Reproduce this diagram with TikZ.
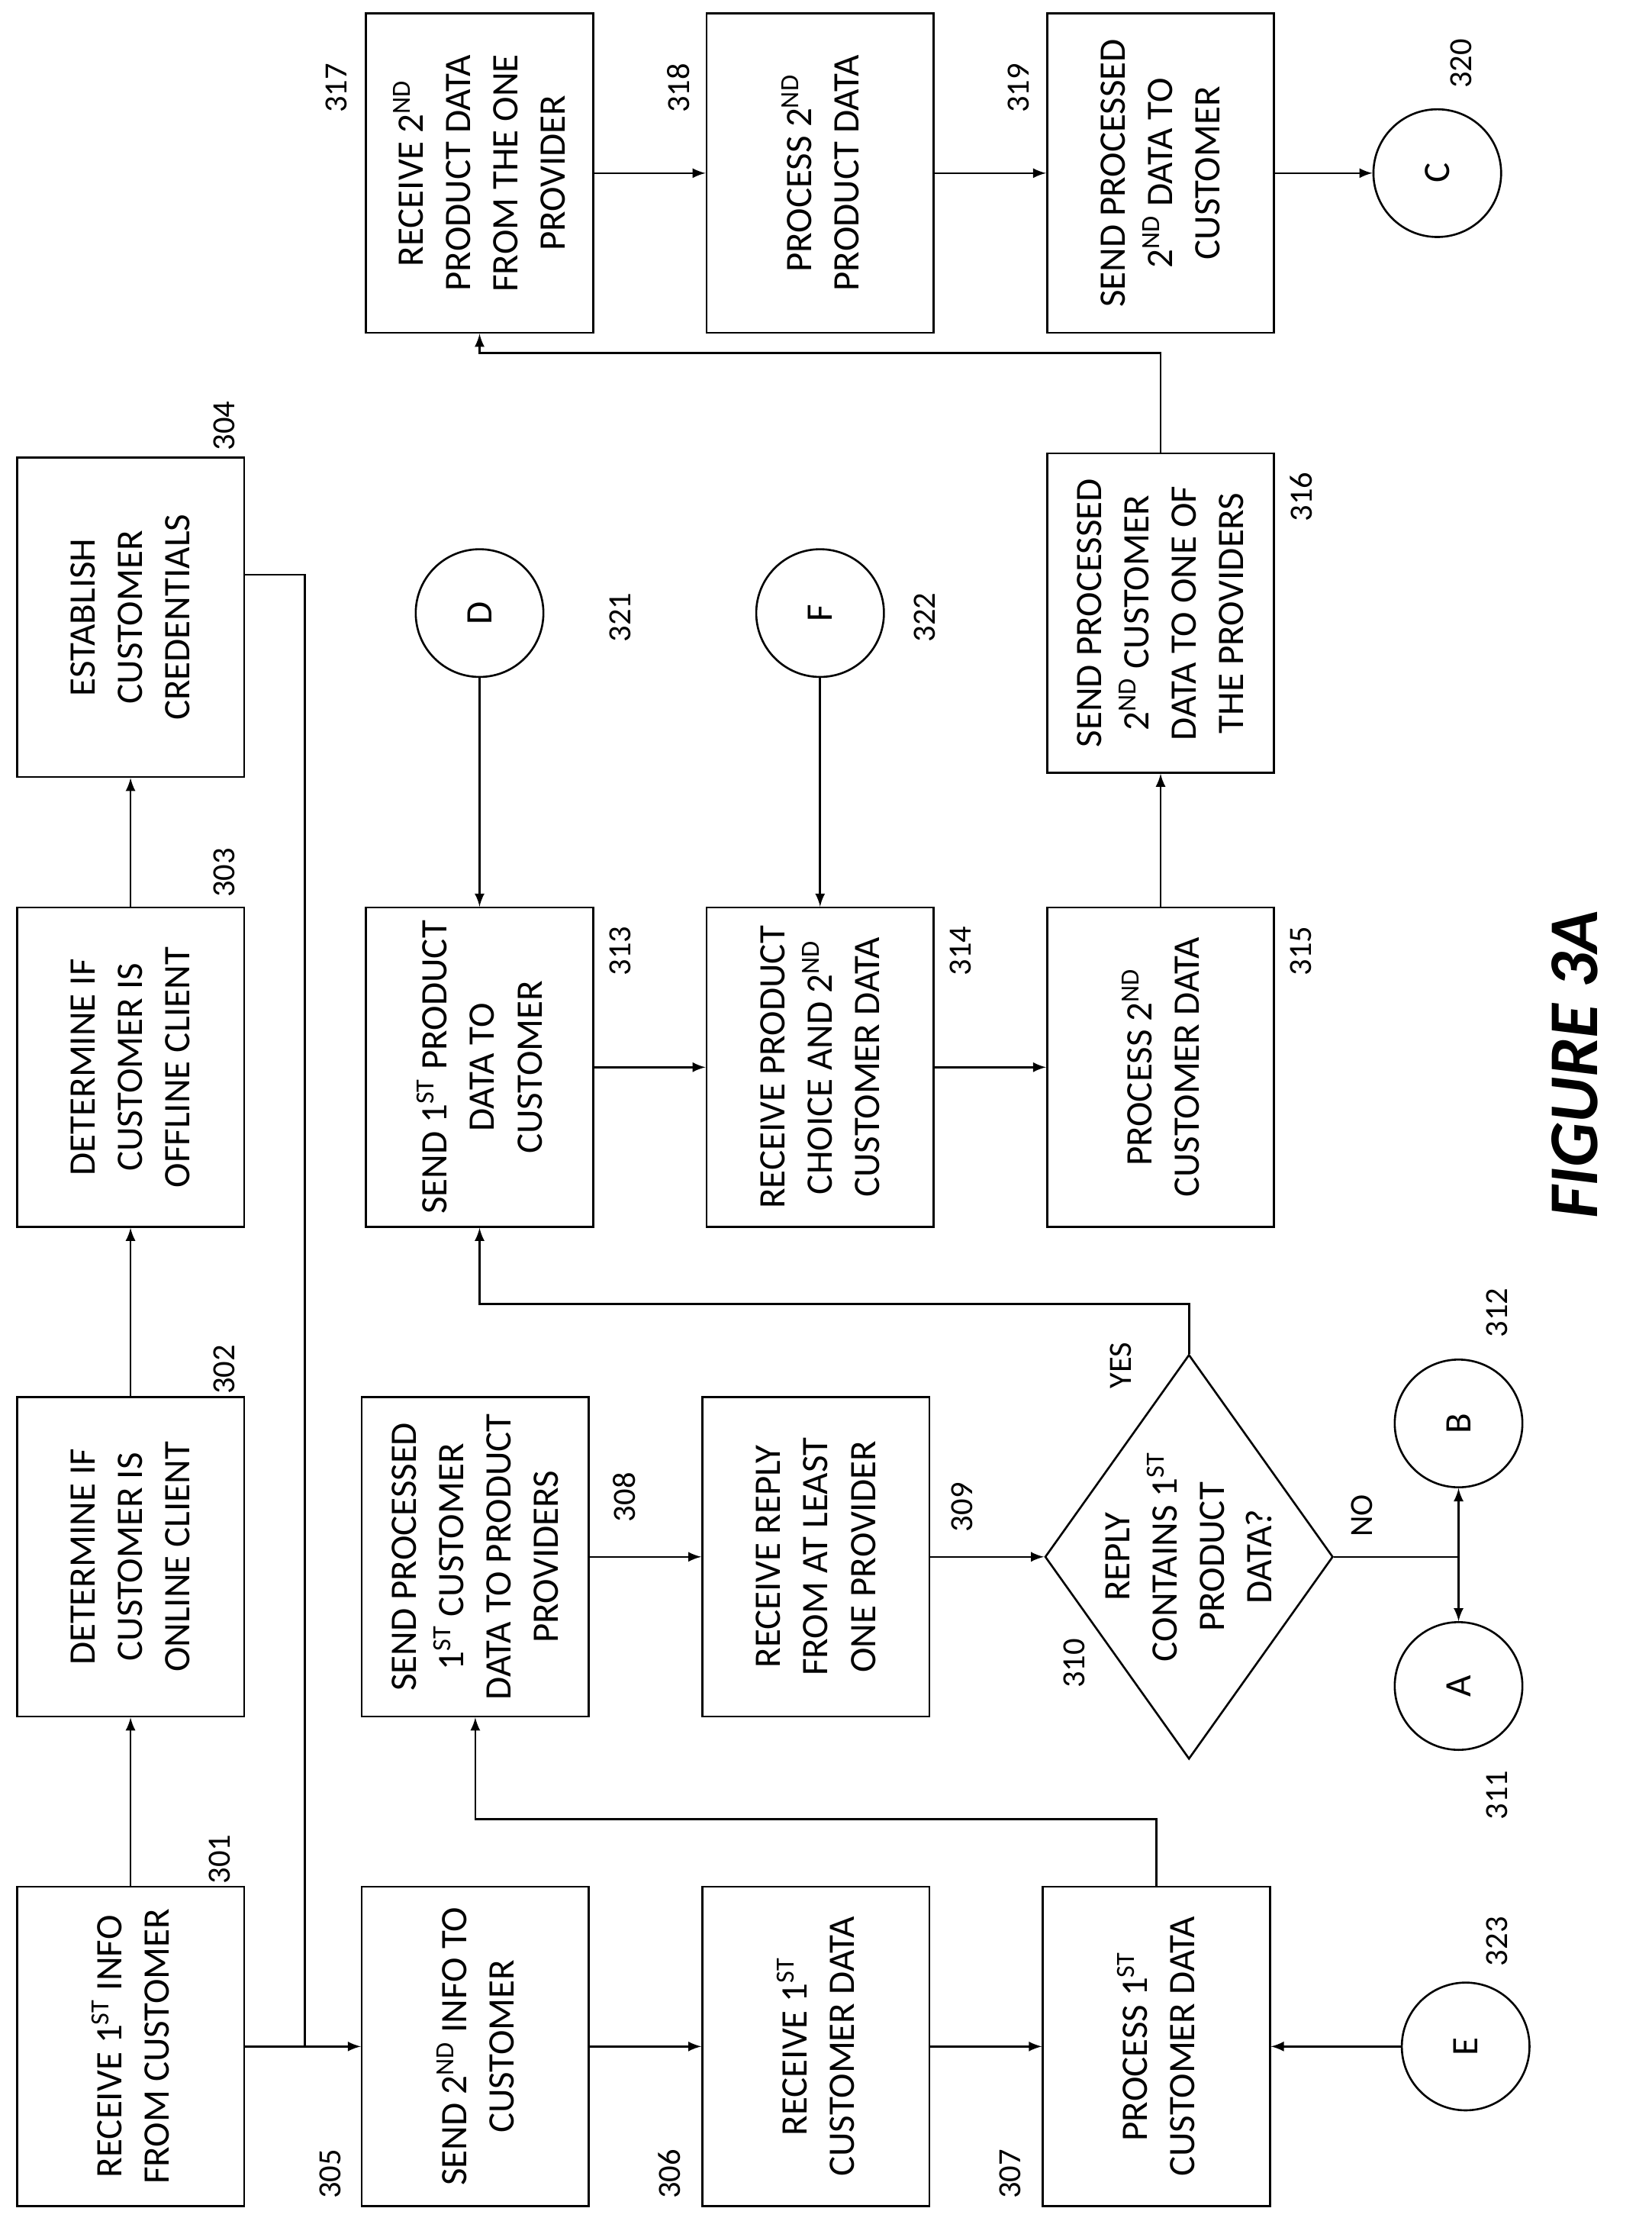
\documentclass[tikz,border=0pt]{standalone}
\usepackage{fontspec}
\setmainfont{Carlito}
\usetikzlibrary{shapes.geometric,arrows}
\tikzset{%
	box/.style      = {draw, thick, rectangle, rotate=90, minimum width=4.5cm, minimum height=3.2cm, align=center, inner sep=2pt, font=\fontsize{15}{19}\selectfont},
	conn/.style     = {draw, thick, circle, rotate=90, minimum size=1.8cm, font=\fontsize{15}{19}\selectfont},
	decision/.style = {draw, thick, diamond, rotate=90, minimum width=5.7cm, minimum height=4.06cm, aspect=1.4, inner sep=-14pt, align=center, font=\fontsize{15}{19}\selectfont},
	num/.style      = {rotate=90, font=\fontsize{13}{15}\selectfont},
	arrow/.style    = {thick,-latex},
	line/.style     = {thick},
}
\newcommand{\sups}[1]{\textsuperscript{#1}}
\begin{document}
\begin{tikzpicture}[x=0.2mm,y=-0.2mm]
	\useasboundingbox (0,0) rectangle (1164,1565);
	% top row
	\node[box] (b301) at (92,1442) {RECEIVE 1\sups{ST} INFO\\FROM CUSTOMER};
	\node[box] (b302) at (92,1097) {DETERMINE IF\\CUSTOMER IS\\ONLINE CLIENT};
	\node[box] (b303) at (92,752) {DETERMINE IF\\CUSTOMER IS\\OFFLINE CLIENT};
	\node[box] (b304) at (92,435) {ESTABLISH\\CUSTOMER\\CREDENTIALS};
	% second row
	\node[box] (b305) at (335,1442) {SEND 2\sups{ND} INFO TO\\CUSTOMER};
	\node[box] (b308) at (335,1097) {SEND PROCESSED\\1\sups{ST} CUSTOMER\\DATA TO PRODUCT\\PROVIDERS};
	\node[box] (b313) at (338,752) {SEND 1\sups{ST} PRODUCT\\DATA TO\\CUSTOMER};
	\node[conn] (cD) at (338,432) {D};
	\node[box] (b317) at (338,122) {RECEIVE 2\sups{ND}\\PRODUCT DATA\\FROM THE ONE\\PROVIDER};
	% third row
	\node[box] (b306) at (575,1442) {RECEIVE 1\sups{ST}\\CUSTOMER DATA};
	\node[box] (b309) at (575,1097) {RECEIVE REPLY\\FROM AT LEAST\\ONE PROVIDER};
	\node[box] (b314) at (578,752) {RECEIVE PRODUCT\\CHOICE AND 2\sups{ND}\\CUSTOMER DATA};
	\node[conn] (cF) at (578,432) {F};
	\node[box] (b318) at (578,122) {PROCESS 2\sups{ND}\\PRODUCT DATA};
	% fourth row
	\node[box] (b307) at (815,1442) {PROCESS 1\sups{ST}\\CUSTOMER DATA};
	\node[decision] (d310) at (838,1097) {REPLY\\CONTAINS 1\sups{ST}\\PRODUCT\\DATA?};
	\node[box] (b315) at (818,752) {PROCESS 2\sups{ND}\\CUSTOMER DATA};
	\node[box] (b316) at (818,432) {SEND PROCESSED\\2\sups{ND} CUSTOMER\\DATA TO ONE OF\\THE PROVIDERS};
	\node[box] (b319) at (818,122) {SEND PROCESSED\\2\sups{ND} DATA TO\\CUSTOMER};
	% connectors
	\node[conn] (cE) at (1033,1442) {E};
	\node[conn] (cA) at (1028,1188) {A};
	\node[conn] (cB) at (1028,1003) {B};
	\node[conn] (cC) at (1013,122) {C};
	\coordinate (j1) at (215,1442);
	\coordinate (j2) at (1028,1097);
	% reference numbers
	\node[num] at (155,1310) {301};
	\node[num] at (158,965) {302};
	\node[num] at (158,615) {303};
	\node[num] at (158,300) {304};
	\node[num] at (233,1532) {305};
	\node[num] at (472,1532) {306};
	\node[num] at (712,1532) {307};
	\node[num] at (440,1055) {308};
	\node[num] at (678,1062) {309};
	\node[num] at (757,1172) {310};
	\node[num] at (1055,1265) {311};
	\node[num] at (1055,925) {312};
	\node[num] at (437,670) {313};
	\node[num] at (677,670) {314};
	\node[num] at (917,670) {315};
	\node[num] at (917,350) {316};
	\node[num] at (237,62) {317};
	\node[num] at (478,62) {318};
	\node[num] at (718,62) {319};
	\node[num] at (1030,45) {320};
	\node[num] at (437,435) {321};
	\node[num] at (652,435) {322};
	\node[num] at (1055,1368) {323};
	\node[num] at (960,1068) {NO};
	\node[num] at (790,962) {YES};
	\node[rotate=90, font=\fontsize{28}{32}\selectfont\bfseries\itshape] (fig) at (1110,750) {FIGURE 3A};
	% arrows
	\draw[arrow] (b301) -- (b302);
	\draw[arrow] (b302) -- (b303);
	\draw[arrow] (b303) -- (b304);
	\draw[line] ([yshift=0.6cm]b304.south) -| (j1);
	\draw[arrow] (b301) -- (b305);
	\draw[arrow] (b305) -- (b306);
	\draw[arrow] (b306) -- (b307);
	\draw[arrow] (cE) -- (b307);
	\draw[arrow] (b307.east) -- ++(0,-47) -| (b308.west);
	\draw[arrow] (b308) -- (b309);
	\draw[arrow] (b309) -- (d310);
	\draw[line] (d310.south) -- (j2);
	\draw[arrow] (j2) -- (cB);
	\draw[arrow] (j2) -- (cA);
	\draw[arrow] (d310.east) -- ++(0,-35) -| (b313.west);
	\draw[arrow] (cD) -- (b313);
	\draw[arrow] (cF) -- (b314);
	\draw[arrow] (b313) -- (b314);
	\draw[arrow] (b314) -- (b315);
	\draw[arrow] (b315) -- (b316);
	\draw[arrow] (b316.east) -- ++(0,-70) -| (b317.west);
	\draw[arrow] (b317) -- (b318);
	\draw[arrow] (b318) -- (b319);
	\draw[arrow] (b319) -- (cC);
\end{tikzpicture}
\end{document}
